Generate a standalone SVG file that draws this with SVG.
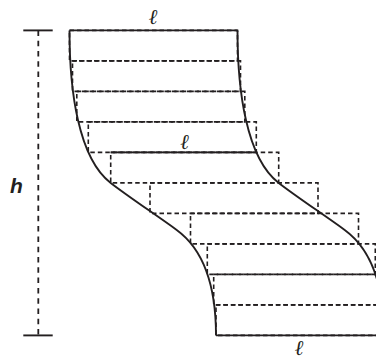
<svg xmlns="http://www.w3.org/2000/svg" width="376" height="360" viewBox="0 0 376 360">
<style>
.solid{fill:none;stroke:#231f20;stroke-width:1.9}
.dash{fill:none;stroke:#231f20;stroke-width:1.6;stroke-dasharray:4.5 3}
.dim{fill:none;stroke:#231f20;stroke-width:1.8;stroke-dasharray:5.5 4.8}
.ell{font-family:"DejaVu Serif","Liberation Serif",serif;font-style:italic;font-weight:bold;font-size:21px;fill:#231f20;text-anchor:middle}
.h{font-family:"Liberation Sans",Arial,sans-serif;font-style:italic;font-weight:bold;font-size:21px;fill:#231f20}
</style>
<defs>
<path id="edge" d="M69.5,30.4 C69.5,90.4 78.2,158 110.7,183 C130.2,198 156.2,215 176.7,230 C204.1,250 216,285.7 216,335.4"/>
</defs>
<g id="dimension">
<line class="solid" x1="23.3" y1="30.4" x2="52.7" y2="30.4"/>
<line class="solid" x1="23.3" y1="335.4" x2="52.7" y2="335.4"/>
<line class="dim" x1="38.3" y1="30.4" x2="38.3" y2="335.4"/>
<text class="h" x="10" y="192.7">h</text>
</g>
<g id="strips">
<rect class="dash" x="69.5" y="30.4" width="168" height="30.5"/>
<rect class="dash" x="72.5" y="60.9" width="168" height="30.5"/>
<rect class="dash" x="76.8" y="91.4" width="168" height="30.5"/>
<rect class="dash" x="88.3" y="121.9" width="168" height="30.5"/>
<rect class="dash" x="110.7" y="152.4" width="168" height="30.5"/>
<rect class="dash" x="150" y="182.9" width="168" height="30.5"/>
<rect class="dash" x="190.5" y="213.4" width="168" height="30.5"/>
<rect class="dash" x="207.3" y="243.9" width="168" height="30.5"/>
<rect class="dash" x="213.7" y="274.4" width="168" height="30.5"/>
<rect class="dash" x="216" y="304.9" width="168" height="30.5"/>
</g>
<g id="body">
<use href="#edge" class="solid"/>
<use href="#edge" class="solid" transform="translate(168,0)"/>
<line class="solid" x1="69.5" y1="30.4" x2="237.5" y2="30.4"/>
<line class="solid" x1="110.7" y1="152.4" x2="256.5" y2="152.4"/>
<line class="solid" x1="216" y1="335.4" x2="384" y2="335.4"/>
</g>
<g id="labels">
<text class="ell" x="153.5" y="23.5">ℓ</text>
<text class="ell" x="185" y="149">ℓ</text>
<text class="ell" x="299.5" y="354.5">ℓ</text>
</g>
</svg>
